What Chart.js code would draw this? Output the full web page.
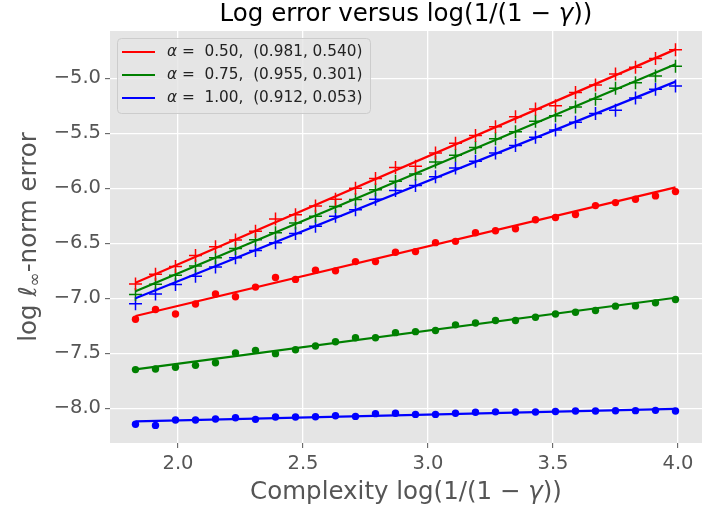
<!DOCTYPE html>
<html>
<head>
<meta charset="utf-8">
<script src="https://cdn.jsdelivr.net/npm/chart.js@4.4.0/dist/chart.umd.min.js"></script>
<style>
  html, body { margin: 0; padding: 0; background: #fff; }
  #wrap { width: 704px; height: 512px; }
</style>
</head>
<body>
<div id="wrap"><canvas id="myChart" width="704" height="512"></canvas></div>
<script>
// complexity log(1/(1-gamma))
const xs = [1.83, 1.91, 1.99, 2.07, 2.15, 2.23, 2.31, 2.39, 2.47, 2.55, 2.63, 2.71, 2.79, 2.87,
  2.95, 3.03, 3.11, 3.19, 3.27, 3.35, 3.43, 3.51, 3.59, 3.67, 3.75, 3.83, 3.91, 3.99];

// "+" markers
const redCross = [-6.87, -6.78, -6.71, -6.61, -6.53, -6.47, -6.39, -6.28, -6.24, -6.16, -6.10, -6.00, -5.91, -5.81,
  -5.80, -5.68, -5.59, -5.52, -5.44, -5.35, -5.28, -5.25, -5.13, -5.06, -4.96, -4.90, -4.82, -4.74];
const greenCross = [-6.965, -6.872, -6.790, -6.705, -6.630, -6.548, -6.467, -6.403, -6.316, -6.255, -6.165, -6.101, -6.014, -5.935,
  -5.87, -5.76, -5.70, -5.63, -5.55, -5.485, -5.39, -5.34, -5.26, -5.19, -5.09, -5.04, -4.98, -4.89];
const blueCross = [-7.05, -6.96, -6.875, -6.80, -6.715, -6.63, -6.565, -6.495, -6.41, -6.345, -6.255, -6.195, -6.10, -6.02,
  -5.975, -5.895, -5.815, -5.755, -5.68, -5.61, -5.535, -5.47, -5.40, -5.32, -5.29, -5.18, -5.10, -5.07];

// dot markers
const redDot = [-7.19, -7.102, -7.142, -7.051, -6.961, -6.985, -6.898, -6.810, -6.828, -6.744, -6.750, -6.666, -6.666, -6.581,
  -6.575, -6.494, -6.482, -6.404, -6.386, -6.367, -6.286, -6.265, -6.238, -6.157, -6.130, -6.099, -6.069, -6.030];
const greenDot = [-7.648, -7.642, -7.627, -7.609, -7.585, -7.497, -7.473, -7.503, -7.467, -7.433, -7.394, -7.358, -7.358, -7.312,
  -7.303, -7.292, -7.241, -7.224, -7.202, -7.202, -7.172, -7.142, -7.127, -7.111, -7.071, -7.069, -7.041, -7.010];
const blueDot = [-8.145, -8.155, -8.106, -8.106, -8.097, -8.085, -8.100, -8.079, -8.079, -8.076, -8.067, -8.073, -8.048, -8.045,
  -8.055, -8.055, -8.045, -8.035, -8.032, -8.033, -8.033, -8.028, -8.024, -8.024, -8.022, -8.021, -8.018, -8.024];

// fitted lines, end points
const fitX = [1.83, 3.99];
const redCrossFit = [-6.858, -4.737];
const greenCrossFit = [-6.935, -4.872];
const blueCrossFit = [-7.0, -5.03];
const redDotFit = [-7.161, -5.991];
const greenDotFit = [-7.645, -6.995];
const blueDotFit = [-8.118, -8.005];

// legend
const alphas = ["0.50", "0.75", "1.00"];
const crossSlopes = ["0.981", "0.955", "0.912"];
const dotSlopes = ["0.540", "0.301", "0.053"];

const xTicks = [2.0, 2.5, 3.0, 3.5, 4.0];
const yTicks = [-8.0, -7.5, -7.0, -6.5, -6.0, -5.5, -5.0];

const FONT = '"DejaVu Sans"';
const colors = ["red", "green", "blue"];

function pts(x, y) {
  return x.map((v, i) => ({ x: v, y: y[i] }));
}

function minus(v) {
  return v.toFixed(1).replace("-", "\u2212");
}

// draw text made of plain / italic pieces
function drawRich(ctx, parts, x, y, size, align) {
  ctx.textBaseline = "middle";
  ctx.textAlign = "left";
  let w = 0;
  parts.forEach(p => {
    ctx.font = (p.i ? "italic " : "") + (size * (p.s || 1)).toFixed(1) + "px " + FONT;
    p.w = ctx.measureText(p.t).width;
    w += p.w;
  });
  let cx = align === "center" ? x - w / 2 : x;
  parts.forEach(p => {
    ctx.font = (p.i ? "italic " : "") + (size * (p.s || 1)).toFixed(1) + "px " + FONT;
    ctx.fillText(p.t, cx, y + (p.dy || 0) * size);
    cx += p.w;
  });
}

const bgPlugin = {
  id: "bg",
  beforeDraw(chart) {
    const { ctx, chartArea: a } = chart;
    ctx.save();
    ctx.fillStyle = "#E5E5E5";
    ctx.fillRect(a.left, a.top, a.right - a.left, a.bottom - a.top);
    ctx.restore();
  },
};

const textPlugin = {
  id: "texts",
  afterDraw(chart) {
    const { ctx, chartArea: a } = chart;
    const mid = (a.left + a.right) / 2;
    ctx.save();
    ctx.fillStyle = "#000";
    drawRich(ctx, [{ t: "Log error versus log(1/(1 \u2212 " }, { t: "\u03b3", i: true }, { t: "))" }], mid, 15, 24.5, "center");

    ctx.fillStyle = "#555555";
    drawRich(ctx, [{ t: "Complexity log(1/(1 \u2212 " }, { t: "\u03b3", i: true }, { t: "))" }], mid, 493, 24.5, "center");

    ctx.translate(30, (a.top + a.bottom) / 2);
    ctx.rotate(-Math.PI / 2);
    drawRich(ctx, [{ t: "log " }, { t: "\u2113", i: true }, { t: "\u221e", s: 0.7, dy: 0.22 }, { t: "-norm error" }], 0, 0, 24.5, "center");
    ctx.restore();

    // legend box
    ctx.save();
    const bx = a.left + 7, by = a.top + 7, bw = 253, bh = 75;
    ctx.fillStyle = "rgba(229,229,229,0.8)";
    ctx.strokeStyle = "#CCCCCC";
    ctx.lineWidth = 1;
    ctx.beginPath();
    ctx.roundRect(bx + 0.5, by + 0.5, bw, bh, 4);
    ctx.fill();
    ctx.stroke();
    alphas.forEach((al, i) => {
      const ry = by + 14 + i * 23;
      ctx.strokeStyle = colors[i];
      ctx.lineWidth = 2.2;
      ctx.beginPath();
      ctx.moveTo(bx + 5, ry);
      ctx.lineTo(bx + 38, ry);
      ctx.stroke();
      ctx.fillStyle = "#222";
      drawRich(ctx, [{ t: "\u03b1", i: true }, { t: " =  " + al + ",  (" + crossSlopes[i] + ", " + dotSlopes[i] + ")" }], bx + 50, ry, 15.3, "left");
    });
    ctx.restore();
  },
};

const crossSets = [redCross, greenCross, blueCross];
const dotSets = [redDot, greenDot, blueDot];
const fitSets = [redCrossFit, greenCrossFit, blueCrossFit, redDotFit, greenDotFit, blueDotFit];

const datasets = [];
fitSets.forEach((f, i) => {
  datasets.push({
    data: pts(fitX, f),
    showLine: true,
    borderColor: colors[i % 3],
    borderWidth: 2.2,
    pointRadius: 0,
    order: 0,
  });
});
crossSets.forEach((s, i) => {
  datasets.push({
    data: pts(xs, s),
    pointStyle: "cross",
    pointRadius: 6.5,
    borderColor: colors[i],
    borderWidth: 1.5,
    order: 1,
  });
});
dotSets.forEach((s, i) => {
  datasets.push({
    data: pts(xs, s),
    pointStyle: "circle",
    pointRadius: 3.7,
    backgroundColor: colors[i],
    borderColor: colors[i],
    borderWidth: 0,
    order: 1,
  });
});

const ctx = document.getElementById("myChart").getContext("2d");
const myChart = new Chart(ctx, {
  type: "scatter",
  data: { datasets },
  options: {
    responsive: false,
    animation: false,
    layout: { autoPadding: false, padding: { top: 31, right: 2, left: 0, bottom: 0 } },
    plugins: { legend: { display: false }, tooltip: { enabled: false }, title: { display: false } },
    scales: {
      x: {
        type: "linear",
        min: 1.728,
        max: 4.096,
        afterBuildTicks: (s) => { s.ticks = xTicks.map(v => ({ value: v })); },
        afterFit: (s) => { s.height = 69; },
        ticks: { color: "#555555", font: { family: FONT, size: 19.5 }, padding: 4, maxRotation: 0, callback: (v) => v.toFixed(1) },
        grid: { color: "#FFFFFF", lineWidth: 1.3, tickColor: "#555555", tickLength: 5, tickWidth: 1 },
        border: { display: false },
      },
      y: {
        type: "linear",
        min: -8.315,
        max: -4.57,
        afterBuildTicks: (s) => { s.ticks = yTicks.map(v => ({ value: v })); },
        afterFit: (s) => { s.width = 110; },
        ticks: { color: "#555555", font: { family: FONT, size: 19.5 }, padding: 4, callback: (v) => minus(v) },
        grid: { color: "#FFFFFF", lineWidth: 1.3, tickColor: "#555555", tickLength: 5, tickWidth: 1 },
        border: { display: false },
      },
    },
  },
  plugins: [bgPlugin, textPlugin],
});
</script>
</body>
</html>
